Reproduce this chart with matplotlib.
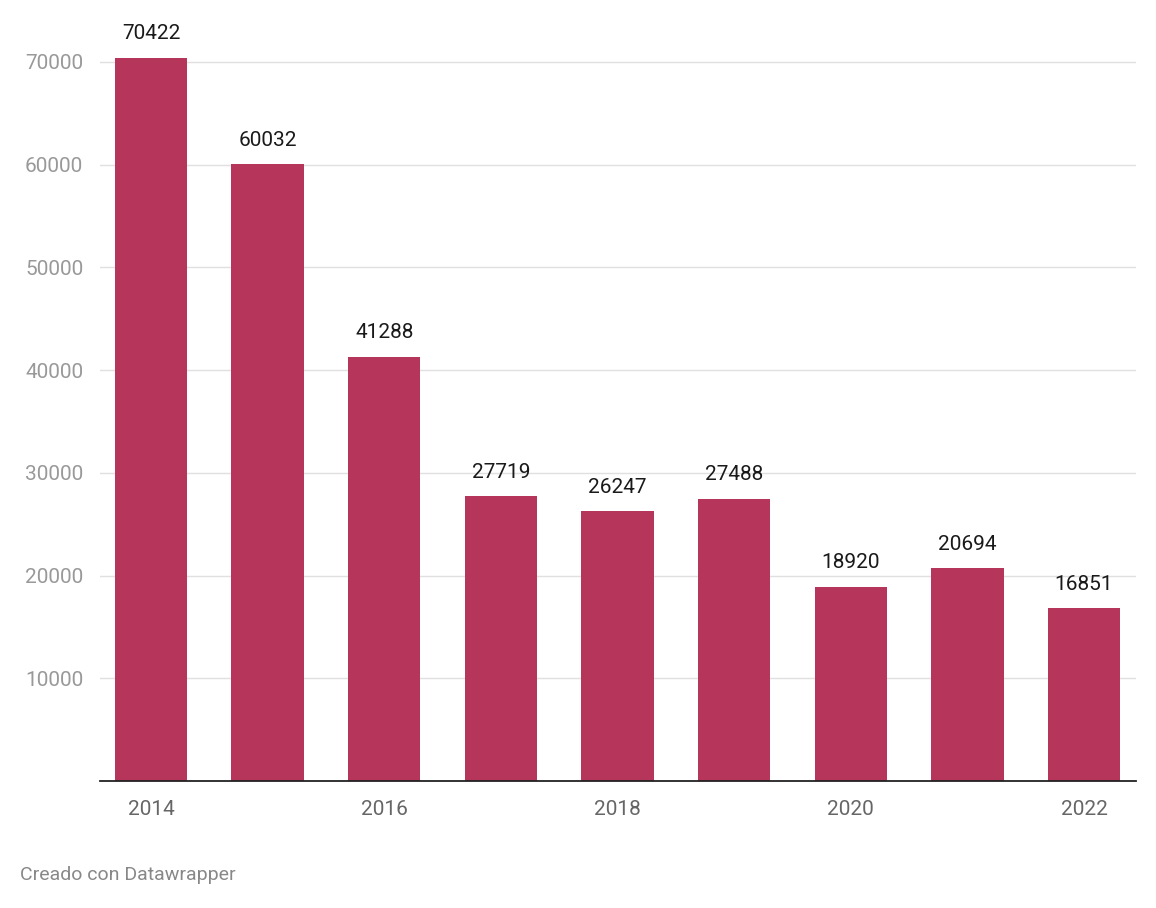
import numpy as np
from matplotlib import pyplot as plt

years = [2014, 2015, 2016, 2017, 2018, 2019, 2020, 2021, 2022]
values = [70422, 60032, 41288, 27719, 26247, 27488, 18920, 20694, 16851]
yticks = [10000, 20000, 30000, 40000, 50000, 60000, 70000]
xticks = [2014, 2016, 2018, 2020, 2022]

plt.rcParams['font.family'] = ['Roboto', 'DejaVu Sans']

fig = plt.figure(figsize=(11.56, 9.08), dpi=100)
ax = fig.add_axes([0.0865, 0.1399, 0.8962, 0.8161])

bars = ax.bar(years, values, width=0.62, color='#b5365a', zorder=2)
for x, v in zip(years, values):
    ax.text(x, v + 1400, str(v), ha='center', va='bottom', fontsize=15, color='#1a1a1a')

ax.set_xlim(2014 - 0.437, 2022 + 0.446)
ax.set_ylim(0, 72143)
ax.set_yticks(yticks)
ax.set_yticklabels([str(t) for t in yticks])
ax.set_xticks(xticks)
ax.set_xticklabels([str(t) for t in xticks])
ax.grid(axis='y', color='#e0e0e0', linewidth=1, zorder=0)
ax.tick_params(axis='both', length=0, labelsize=15, labelcolor='#999999')
ax.tick_params(axis='x', pad=14, labelcolor='#666666')
ax.tick_params(axis='y', pad=12)
for s in ['top', 'right', 'left']:
    ax.spines[s].set_visible(False)
ax.spines['bottom'].set_color('#222222')
ax.spines['bottom'].set_linewidth(1.3)
ax.spines['bottom'].set_zorder(3)

fig.text(20 / 1156, 1 - 875 / 908, 'Creado con Datawrapper', fontsize=14,
         color='#888888', va='center', ha='left')

fig.savefig('out.png', dpi=100)
